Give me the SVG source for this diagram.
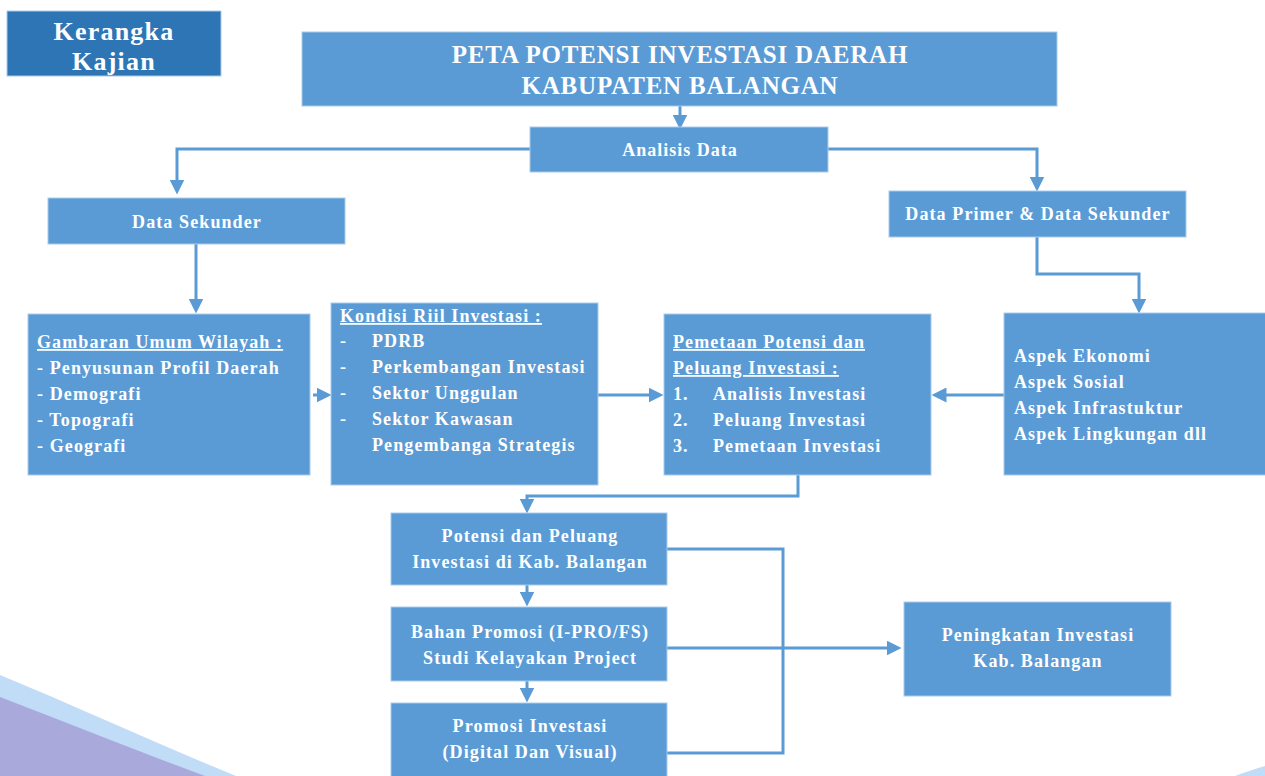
<svg xmlns="http://www.w3.org/2000/svg" width="1265" height="776" viewBox="0 0 1265 776">
<defs>
<style>
.box{fill:#5b9bd5;stroke:#a8cbee;stroke-width:1}
.dark{fill:#2e75b6;stroke:#a8cbee;stroke-width:1}
text{font-family:"Liberation Serif","Times New Roman",serif;font-weight:bold;fill:#ffffff}
.c{text-anchor:middle}
.t17{font-size:18px;letter-spacing:1.1px}
.big{font-size:25px;letter-spacing:0.8px}
.conn{fill:none;stroke:#5b9bd5;stroke-width:3}
</style>
<marker id="ah" markerWidth="5" markerHeight="5" refX="2.5" refY="2.5" orient="auto" markerUnits="strokeWidth" viewBox="0 0 5 5">
<path d="M0,0 L5,2.5 L0,5 z" fill="#5b9bd5"/>
</marker>
</defs>
<rect width="1265" height="776" fill="#ffffff"/>
<g id="background">
<path d="M0,675 C80,708 160,745 236,776 L0,776 z" fill="#c0dcf7"/>
<path d="M0,697 C70,724 140,752 205,776 L0,776 z" fill="#a9a9db"/>
<path d="M1235,776 C1245,772 1255,769 1265,766 L1265,776 z" fill="#c0dcf7"/>
</g>
<g id="connectors">
<path class="conn" d="M680,106 V122" marker-end="url(#ah)"/>
<path class="conn" d="M530,149 H177 V187" marker-end="url(#ah)"/>
<path class="conn" d="M828,149 H1037 V184" marker-end="url(#ah)"/>
<path class="conn" d="M196,244 V306" marker-end="url(#ah)"/>
<path class="conn" d="M1037,237 V274 H1139 V306" marker-end="url(#ah)"/>
<path class="conn" d="M313,395 H324" marker-end="url(#ah)"/>
<path class="conn" d="M598,395 H656" marker-end="url(#ah)"/>
<path class="conn" d="M1004,395 H939" marker-end="url(#ah)"/>
<path class="conn" d="M798,475 V496 H527 V506" marker-end="url(#ah)"/>
<path class="conn" d="M527,585 V599" marker-end="url(#ah)"/>
<path class="conn" d="M527,681 V695" marker-end="url(#ah)"/>
<path class="conn" d="M667,549 H783 V753 H667"/>
<path class="conn" d="M667,648 H894" marker-end="url(#ah)"/>
</g>
<g id="kerangka">
<rect class="dark" x="7" y="11" width="214" height="65"/>
<text class="c" x="114" y="40" font-size="26" letter-spacing="1.2">Kerangka</text>
<text class="c" x="114" y="70" font-size="26" letter-spacing="1.2">Kajian</text>
</g>
<g id="title">
<rect class="box" x="302" y="32" width="755" height="74"/>
<text class="c big" x="680" y="63">PETA POTENSI INVESTASI DAERAH</text>
<text class="c big" x="680" y="94">KABUPATEN BALANGAN</text>
</g>
<g id="analisis">
<rect class="box" x="530" y="127" width="298" height="45"/>
<text class="c" x="680" y="156" font-size="18" letter-spacing="1">Analisis  Data</text>
</g>
<g id="sekunder">
<rect class="box" x="48" y="198" width="297" height="46"/>
<text class="c t17" x="197" y="228">Data Sekunder</text>
</g>
<g id="primer">
<rect class="box" x="889" y="191" width="297" height="46"/>
<text class="c t17" x="1038" y="220">Data Primer &amp; Data Sekunder</text>
</g>
<g id="gambaran">
<rect class="box" x="28" y="314" width="282" height="161"/>
<text class="t17" x="37" y="348" text-decoration="underline">Gambaran Umum Wilayah :</text>
<text class="t17" x="37" y="374">- Penyusunan Profil Daerah</text>
<text class="t17" x="37" y="400">- Demografi</text>
<text class="t17" x="37" y="426">- Topografi</text>
<text class="t17" x="37" y="452">- Geografi</text>
</g>
<g id="kondisi">
<rect class="box" x="331" y="303" width="267" height="182"/>
<text class="t17" x="340" y="322" text-decoration="underline">Kondisi Riil Investasi :</text>
<text class="t17" x="340" y="347">-</text><text class="t17" x="372" y="347">PDRB</text>
<text class="t17" x="340" y="373">-</text><text class="t17" x="372" y="373">Perkembangan Investasi</text>
<text class="t17" x="340" y="399">-</text><text class="t17" x="372" y="399">Sektor Unggulan</text>
<text class="t17" x="340" y="425">-</text><text class="t17" x="372" y="425">Sektor Kawasan</text>
<text class="t17" x="372" y="451">Pengembanga Strategis</text>
</g>
<g id="pemetaan">
<rect class="box" x="664" y="314" width="267" height="161"/>
<text class="t17" x="673" y="348" text-decoration="underline">Pemetaan Potensi dan</text>
<text class="t17" x="673" y="374" text-decoration="underline">Peluang Investasi :</text>
<text class="t17" x="673" y="400">1.</text><text class="t17" x="713" y="400">Analisis  Investasi</text>
<text class="t17" x="673" y="426">2.</text><text class="t17" x="713" y="426">Peluang Investasi</text>
<text class="t17" x="673" y="452">3.</text><text class="t17" x="713" y="452">Pemetaan Investasi</text>
</g>
<g id="aspek">
<rect class="box" x="1004" y="313" width="266" height="162"/>
<text class="t17" x="1014" y="362">Aspek Ekonomi</text>
<text class="t17" x="1014" y="388">Aspek Sosial</text>
<text class="t17" x="1014" y="414">Aspek Infrastuktur</text>
<text class="t17" x="1014" y="440">Aspek  Lingkungan dll</text>
</g>
<g id="potensi">
<rect class="box" x="391" y="513" width="276" height="72"/>
<text class="c t17" x="530" y="542">Potensi dan Peluang</text>
<text class="c t17" x="530" y="568">Investasi di Kab. Balangan</text>
</g>
<g id="bahan">
<rect class="box" x="391" y="607" width="276" height="74"/>
<text class="c t17" x="530" y="638">Bahan Promosi (I-PRO/FS)</text>
<text class="c t17" x="530" y="664">Studi Kelayakan  Project</text>
</g>
<g id="promosi">
<rect class="box" x="391" y="703" width="276" height="80"/>
<text class="c t17" x="530" y="732">Promosi Investasi</text>
<text class="c t17" x="530" y="758">(Digital Dan Visual)</text>
</g>
<g id="peningkatan">
<rect class="box" x="904" y="602" width="267" height="94"/>
<text class="c t17" x="1038" y="641">Peningkatan Investasi</text>
<text class="c t17" x="1038" y="667">Kab. Balangan</text>
</g>
</svg>
